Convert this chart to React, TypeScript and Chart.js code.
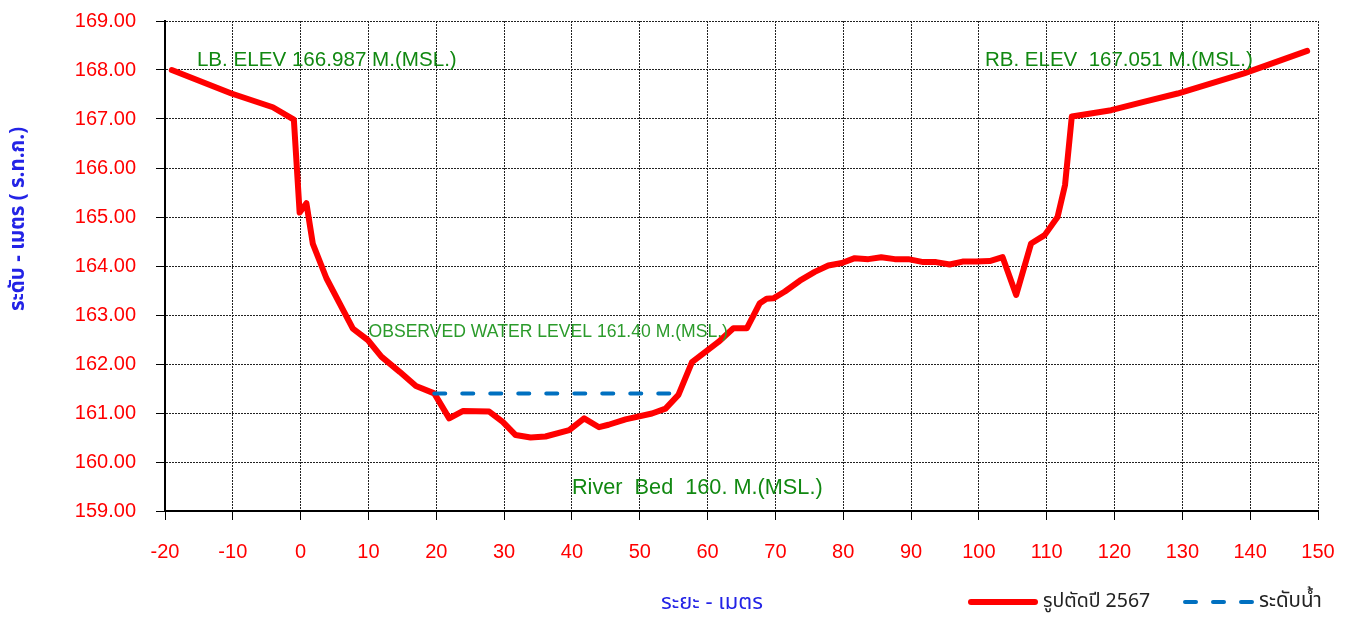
import React, { useEffect, useRef } from "react";
import { Chart, registerables } from "chart.js";

Chart.register(...registerables);

// Cross-section profile (distance m, elevation m MSL)
const distance = [
  -19, -10.2, -4.1, -1, -0.15, 0.85, 1.8, 3.8, 7.7, 9.9, 11.9, 14.6, 17.0, 19.7,
  21.9, 23.9, 27.8, 29.8, 31.7, 33.9, 36.1, 39.6, 41.8, 44.0, 45.4, 47.9, 51.8,
  53.8, 55.7, 57.7, 61.6, 63.8, 65.8, 67.7, 68.7, 69.7, 71.4, 73.6, 75.8, 77.8,
  79.8, 81.7, 83.7, 85.6, 87.6, 89.6, 91.8, 93.7, 95.7, 97.6, 99.6, 101.6, 103.5,
  105.5, 107.7, 109.7, 111.6, 112.7, 113.7, 119.5, 124.3, 129.3, 139.1, 148.4,
];
const elevation = [
  168.0, 167.52, 167.24, 166.987, 165.09, 165.28, 164.45, 163.75, 162.72, 162.49,
  162.15, 161.84, 161.55, 161.4, 160.89, 161.04, 161.03, 160.82, 160.55, 160.5,
  160.52, 160.65, 160.89, 160.71, 160.76, 160.87, 160.99, 161.09, 161.37, 162.04,
  162.45, 162.73, 162.73, 163.24, 163.33, 163.34, 163.48, 163.7, 163.88, 164.01,
  164.06, 164.16, 164.14, 164.18, 164.14, 164.14, 164.08, 164.08, 164.03, 164.09,
  164.09, 164.1, 164.18, 163.41, 164.46, 164.63, 165.0, 165.65, 167.051, 167.18,
  167.35, 167.52, 167.93, 168.39,
];

// Observed water level line
const waterDistance = [19.7, 55.6];
const waterElevation = [161.4, 161.4];

const seriesNames = ["รูปตัดปี 2567", "ระดับน้ำ"];

const xMin = -20;
const xMax = 150;
const xStep = 10;
const yMin = 159;
const yMax = 169;
const yStep = 1;

const yTitle = "ระดับ - เมตร ( ร.ท.ก.)";
const xTitle = "ระยะ - เมตร";

const annotations = [
  { text: "LB. ELEV 166.987 M.(MSL.)", x: -15.3, y: 168.2, color: "#118811", size: 20.6 },
  { text: "RB. ELEV  167.051 M.(MSL.)", x: 100.9, y: 168.2, color: "#118811", size: 20.5 },
  { text: "OBSERVED WATER LEVEL 161.40 M.(MSL.)", x: 10.0, y: 162.65, color: "#2b9b2b", size: 17.6 },
  { text: "River  Bed  160. M.(MSL.)", x: 40.0, y: 159.47, color: "#118811", size: 21.7 },
];

const LATIN = '"Liberation Sans", Arial, sans-serif';
const THAI = '"Noto Sans Thai", "Noto Sans", "DejaVu Sans", sans-serif';

const decorPlugin = {
  id: "decor",
  afterDatasetsDraw(chart: any) {
    const { ctx, scales } = chart;
    const xs = scales.x;
    const ys = scales.y;
    ctx.save();
    ctx.textAlign = "left";
    ctx.textBaseline = "middle";
    for (const a of annotations) {
      ctx.font = `${a.size}px ${LATIN}`;
      ctx.fillStyle = a.color;
      ctx.fillText(a.text, xs.getPixelForValue(a.x), ys.getPixelForValue(a.y));
    }
    ctx.restore();
  },
  afterDraw(chart: any) {
    const { ctx } = chart;
    ctx.save();
    ctx.translate(20, 219);
    ctx.rotate(-Math.PI / 2);
    ctx.textAlign = "center";
    ctx.textBaseline = "middle";
    ctx.font = `bold 20.5px ${THAI}`;
    ctx.fillStyle = "#2323e6";
    ctx.fillText(yTitle, 0, 0);
    ctx.restore();

    ctx.save();
    ctx.textAlign = "center";
    ctx.textBaseline = "middle";
    ctx.font = `22px ${THAI}`;
    ctx.fillStyle = "#2323e6";
    ctx.fillText(xTitle, 712, 605);
    ctx.restore();

    // Legend
    const ds = chart.data.datasets;
    ctx.save();
    ctx.lineCap = "round";
    ctx.textBaseline = "middle";
    ctx.textAlign = "left";
    ctx.fillStyle = "#222";
    ctx.strokeStyle = ds[1].borderColor;
    ctx.lineWidth = ds[1].borderWidth;
    ctx.beginPath();
    ctx.moveTo(971, 602);
    ctx.lineTo(1035, 602);
    ctx.stroke();
    ctx.font = `19.5px ${THAI}`;
    ctx.fillText(ds[1].label, 1043, 603);
    ctx.strokeStyle = ds[0].borderColor;
    ctx.lineWidth = ds[0].borderWidth;
    ctx.setLineDash(ds[0].borderDash);
    ctx.beginPath();
    ctx.moveTo(1185, 602);
    ctx.lineTo(1252, 602);
    ctx.stroke();
    ctx.setLineDash([]);
    ctx.font = `20.5px ${THAI}`;
    ctx.fillText(ds[0].label, 1259, 603);
    ctx.restore();
  },
};

export default function App() {
  const ref = useRef<HTMLCanvasElement | null>(null);

  useEffect(() => {
    document.body.style.margin = "0";
    const canvas = ref.current;
    if (!canvas) return;
    const profile = distance.map((d, i) => ({ x: d, y: elevation[i] }));
    const water = waterDistance.map((d, i) => ({ x: d, y: waterElevation[i] }));
    const chart = new Chart(canvas, {
      type: "line",
      data: {
        datasets: [
          {
            label: seriesNames[1],
            data: water,
            borderColor: "#0070c0",
            borderWidth: 4,
            borderDash: [11, 17],
            borderCapStyle: "round",
            pointRadius: 0,
            fill: false,
            tension: 0,
          },
          {
            label: seriesNames[0],
            data: profile,
            borderColor: "#ff0000",
            borderWidth: 6,
            borderCapStyle: "round",
            borderJoinStyle: "round",
            pointRadius: 0,
            fill: false,
            tension: 0,
          },
        ],
      },
      options: {
        animation: false,
        responsive: false,
        devicePixelRatio: 1,
        layout: { padding: { top: 21, right: 33, left: 0, bottom: 0 } },
        plugins: {
          legend: { display: false },
          tooltip: { enabled: false },
        },
        scales: {
          x: {
            type: "linear",
            min: xMin,
            max: xMax,
            afterFit: (s: any) => {
              s.height = 108;
              s.paddingLeft = 0;
              s.paddingRight = 0;
            },
            ticks: {
              stepSize: xStep,
              color: "#ff0000",
              font: { family: LATIN, size: 20 },
              padding: 20,
              maxRotation: 0,
            },
            grid: {
              color: "#222",
              lineWidth: 1,
              tickLength: 9,
              tickColor: "#000",
            },
            border: { display: true, color: "#000", width: 2, dash: [2, 1] },
          },
          y: {
            type: "linear",
            min: yMin,
            max: yMax,
            afterFit: (s: any) => {
              s.width = 165;
              s.paddingTop = 0;
              s.paddingBottom = 0;
            },
            ticks: {
              stepSize: yStep,
              color: "#ff0000",
              font: { family: LATIN, size: 20 },
              padding: 20,
              callback: (v: any) => Number(v).toFixed(2),
            },
            grid: {
              color: "#222",
              lineWidth: 1,
              tickLength: 9,
              tickColor: "#000",
            },
            border: { display: true, color: "#000", width: 2, dash: [2, 1] },
          },
        },
      },
      plugins: [decorPlugin],
    } as any);
    return () => chart.destroy();
  }, []);

  return (
    <div style={{ position: "fixed", left: 0, top: 0, width: 1351, height: 619, background: "#fff" }}>
      <canvas ref={ref} width={1351} height={619} style={{ display: "block" }} />
    </div>
  );
}
